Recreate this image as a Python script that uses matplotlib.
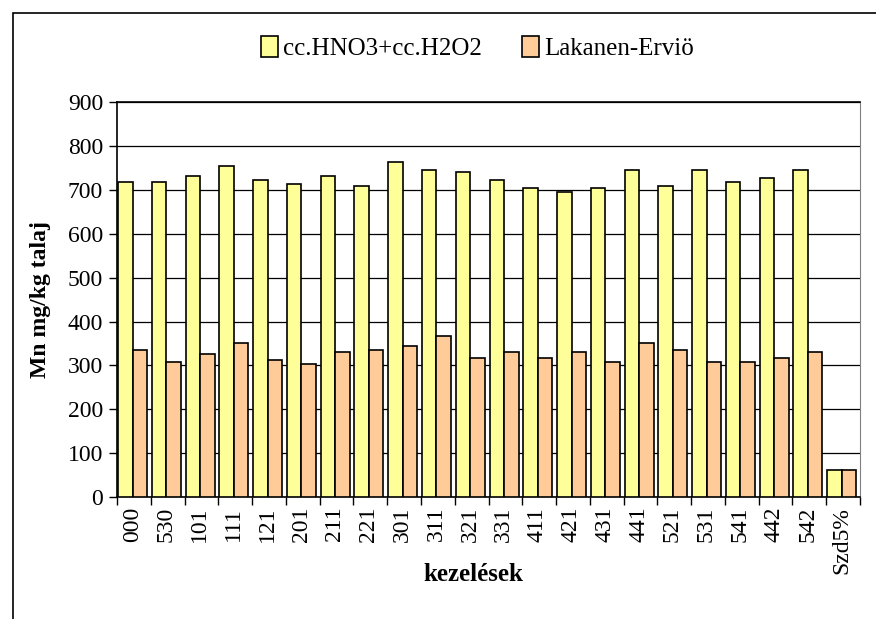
import numpy as np
import matplotlib.pyplot as plt
from matplotlib.patches import Rectangle

# kezelések (treatments) and Mn values
kezelesek = ['000', '530', '101', '111', '121', '201', '211', '221', '301', '311',
             '321', '331', '411', '421', '431', '441', '521', '531', '541', '442',
             '542', 'Szd5%']
hno3_h2o2 = [718, 718, 732, 754, 722, 713, 732, 709, 763, 745,
             741, 722, 705, 696, 705, 745, 709, 745, 718, 726,
             745, 62]
lakanen = [335, 307, 326, 350, 313, 303, 331, 335, 344, 367,
           318, 331, 318, 331, 307, 350, 335, 307, 307, 318,
           331, 62]

plt.rcParams['font.family'] = ['Liberation Serif', 'DejaVu Serif']

fig = plt.figure(figsize=(8.76, 6.19), dpi=100)
ax = fig.add_axes([0.1336, 0.197, 0.8481, 0.638])

x = np.arange(len(kezelesek))
w = 0.43
ax.bar(x - 0.47, hno3_h2o2, width=w, align='edge', color='#FFFF99',
       edgecolor='black', linewidth=1.2, label='cc.HNO3+cc.H2O2', zorder=3)
ax.bar(x - 0.04, lakanen, width=w, align='edge', color='#FFCC99',
       edgecolor='black', linewidth=1.2, label='Lakanen-Erviö', zorder=3)

ax.set_xlim(-0.5, len(kezelesek) - 0.5)
ax.set_ylim(0, 900)
ax.set_yticks(range(0, 901, 100))
ax.yaxis.grid(True, color='black', linewidth=0.9, zorder=0)

# labels under the bar pairs, tick marks on category boundaries
ax.set_xticks(x - 0.05)
ax.set_xticklabels(kezelesek, rotation=90, fontsize=17)
ax.tick_params(axis='x', length=0, pad=7)
ax.set_xticks(np.arange(len(kezelesek) + 1) - 0.5, minor=True)
ax.tick_params(axis='x', which='minor', length=6, width=1, direction='out')
ax.tick_params(axis='y', labelsize=17, length=6, width=1, direction='out', pad=4)

for s in ['left', 'bottom', 'top']:
    ax.spines[s].set_linewidth(1.2)
ax.spines['right'].set_color('#808080')

ax.set_ylabel('Mn mg/kg talaj', fontsize=17, fontweight='bold', labelpad=12)
ax.set_xlabel('kezelések', fontsize=18, fontweight='bold')
ax.xaxis.set_label_coords(0.48, -0.167)

fig.legend(loc='center', bbox_to_anchor=(0.545, 0.922), ncol=2, frameon=False,
           fontsize=18, handlelength=0.7, handleheight=0.9, handletextpad=0.2,
           columnspacing=1.6)

# outer chart-area frame
fig.patches.append(Rectangle((13 / 876, -0.1), 1.2, 1.1 - 13 / 619,
                             transform=fig.transFigure, fill=False,
                             edgecolor='black', linewidth=1.2))

fig.savefig('out.png', dpi=100)
